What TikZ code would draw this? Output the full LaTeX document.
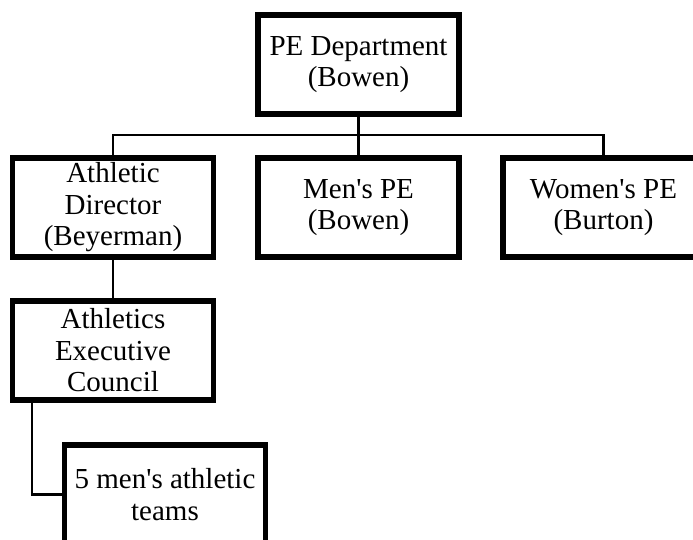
\documentclass[tikz,border=0pt]{standalone}
\usepackage{fontspec}
\setmainfont{Liberation Serif}
\usepackage{tikz}
\newcommand{\ap}{\textquotesingle}

\begin{document}
\begin{tikzpicture}[x=1pt,y=-1pt,
	caja/.style={draw,line width=5.7pt,fill=white,align=center,inner sep=0pt,
		minimum width=201pt,minimum height=99.5pt,
		font=\fontsize{29}{31.5}\selectfont},
	linea/.style={line width=2.3pt}]
	\useasboundingbox (0,0) rectangle (693,540);
	\clip (0,0) rectangle (693,540);
	%Cajas
	\node[caja] (dept) at (358.5,64.5) {PE Department\\(Bowen)};
	\node[caja] (ad) at (113,207.5) {Athletic\\Director\\(Beyerman)};
	\node[caja] (men) at (358.5,207.5) {Men\ap s PE\\(Bowen)};
	\node[caja] (women) at (603.5,207.5) {Women\ap s PE\\(Burton)};
	\node[caja] (aec) at (113,350.5) {Athletics\\Executive\\Council};
	\node[caja] (teams) at (165,494.5) {5 men\ap s athletic\\teams};
	%Lineas
	\coordinate (bus) at (358.5,135);
	\coordinate (baja) at ([xshift=22pt]aec.south west);
	\draw[linea] (dept.south) -- (men.north);
	\draw[linea] (ad.north) |- (bus) -| (women.north);
	\draw[linea] (ad.south) -- (aec.north);
	\draw[linea] (baja) |- (teams.west);
\end{tikzpicture}
\end{document}
